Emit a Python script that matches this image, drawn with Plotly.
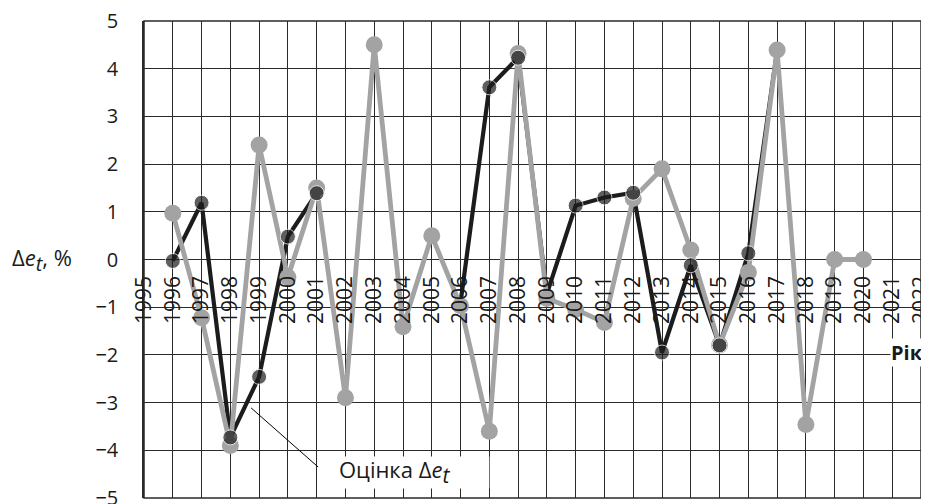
import plotly.graph_objects as go

# ---- data ----
years_actual = list(range(1996, 2021))
delta_actual = [0.97, -1.22, -3.9, 2.4, -0.37, 1.5, -2.9, 4.5, -1.41, 0.5,
                -0.97, -3.6, 4.32, -0.82, -1.05, -1.32, 1.28, 1.9, 0.2, -1.79,
                -0.27, 4.39, -3.46, 0.0, 0.0]

years_est = list(range(1996, 2018))
delta_est = [-0.03, 1.19, -3.73, -2.46, 0.48, 1.39, None, None, None, None,
             -0.9, 3.61, 4.23, -0.72, 1.13, 1.30, 1.40, -1.95, -0.12, -1.8,
             0.13, 4.38]

x_range = [1995, 2022]
y_range = [-5, 5]

# ---- styles ----
GRAY = "#a3a3a3"
BLACK = "#1c1c1c"
GRID = "#2a2a2a"
FONT = "Open Sans"
est_marker_size = [15 if y not in (2006, 2009, 2017) else 0 for y in years_est]

fig = go.Figure()
# estimate line (drawn underneath)
fig.add_trace(go.Scatter(x=years_est, y=delta_est, mode="lines",
                         line=dict(color=BLACK, width=4.2),
                         connectgaps=False, hoverinfo="skip"))
# actual
fig.add_trace(go.Scatter(x=years_actual, y=delta_actual, mode="lines+markers",
                         line=dict(color=GRAY, width=4.8),
                         marker=dict(color=GRAY, size=17)))
# estimate markers
fig.add_trace(go.Scatter(x=years_est, y=delta_est, mode="markers",
                         marker=dict(color=BLACK, size=est_marker_size)))

# page body has an 8px offset, so the figure is 8px smaller and shifted
fig.update_layout(
    width=921, height=496,
    margin=dict(l=136, r=8, t=13, b=6, autoexpand=False),
    plot_bgcolor="white", paper_bgcolor="white",
    showlegend=False,
    font=dict(family=FONT, color="#1a1a1a"),
    xaxis=dict(range=x_range, tick0=1995, dtick=1, showgrid=True,
               gridcolor=GRID, gridwidth=1.4, zeroline=False, showline=False,
               anchor="free", position=0.5, tickangle=-90, automargin=False,
               ticks="outside", ticklen=7, tickcolor="rgba(0,0,0,0)",
               ticklabeloverflow="allow",
               tickfont=dict(size=21, family=FONT, color="#1a1a1a")),
    yaxis=dict(range=y_range, dtick=1, showgrid=True, gridcolor=GRID,
               gridwidth=1.4, zeroline=False, showline=True, mirror=True,
               linecolor=GRID, linewidth=1.5, automargin=False,
               ticks="outside", ticklen=20, tickcolor="rgba(0,0,0,0)",
               ticklabeloverflow="allow",
               tickfont=dict(size=20, family=FONT, color="#1a1a1a")),
)

fig.add_shape(type="rect", xref="paper", yref="paper", x0=0, x1=1, y0=0, y1=1,
              line=dict(color=GRID, width=1.5), fillcolor="rgba(0,0,0,0)",
              layer="above")
# white label box
fig.add_shape(type="rect", xref="x", yref="y", x0=2001.05, x1=2007.0,
              y0=-4.8, y1=-4.13, line=dict(width=0), fillcolor="white",
              layer="above")
# leader line
fig.add_shape(type="line", xref="x", yref="y", x0=1998.72, y0=-3.11,
              x1=2001.05, y1=-4.35, line=dict(color="black", width=1),
              layer="above")

fig.add_annotation(x=2001.72, y=-4.45, xref="x", yref="y", xanchor="left",
                   yanchor="middle", showarrow=False,
                   text="Оцінка Δ<i>e</i><sub><i><span style='font-size:21px'>t</span></i></sub>",
                   font=dict(size=22, family=FONT, color="#1a1a1a"))
fig.add_annotation(x=1.0, xshift=3, y=-1.96, xref="paper", yref="y",
                   xanchor="right", yanchor="middle", showarrow=False,
                   text="<b>Рік</b>", bgcolor="white", borderpad=0,
                   font=dict(size=20, family=FONT, color="#1a1a1a"))
fig.add_annotation(x=-0.1725, y=0, xref="paper", yref="y", xanchor="left",
                   yanchor="middle", showarrow=False,
                   text="Δ<i>e</i><sub><i><span style='font-size:20px'>t</span></i></sub>, %",
                   font=dict(size=22, family=FONT, color="#1a1a1a"))

fig.write_html("out.html")
